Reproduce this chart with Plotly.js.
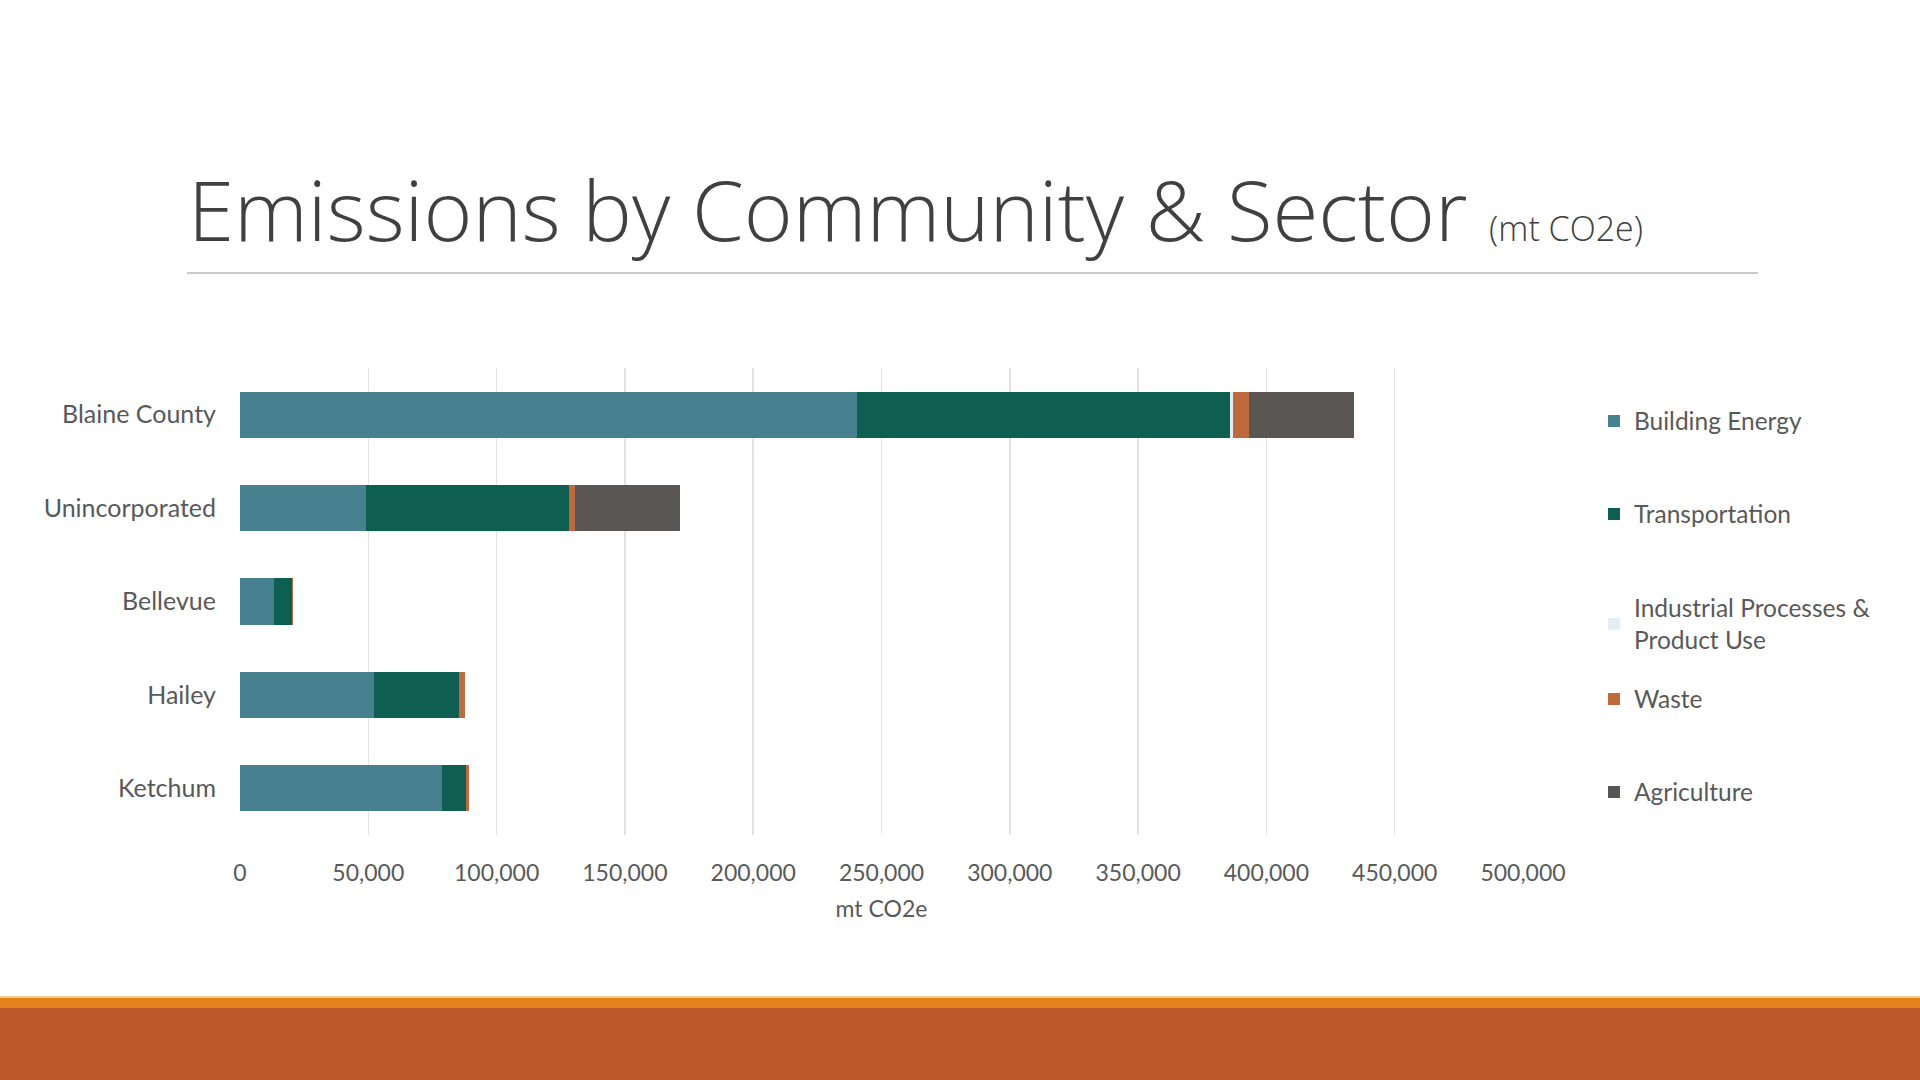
<!DOCTYPE html>
<html>
<head>
<meta charset="utf-8">
<script src="https://cdn.plot.ly/plotly-3.0.1.min.js"></script>
<style>
html,body{margin:0;padding:0;background:#ffffff;}
#chart{width:1920px;height:1080px;}
</style>
</head>
<body>
<div id="chart"></div>
<script>
// ---- Data ----
const communities = ["Blaine County", "Unincorporated", "Bellevue", "Hailey", "Ketchum"];
const sectors = ["Building Energy", "Transportation", "Industrial Processes &<br>Product Use", "Waste", "Agriculture"];
const buildingEnergy = [240300, 49100, 13300, 52100, 78700];
const transportation = [145700, 79200, 6800, 33200, 9400];
const industrial = [800, 0, 0, 0, 0];
const waste = [6500, 2400, 500, 2500, 1000];
const agriculture = [40800, 40900, 0, 0, 0];
const xTicks = [0, 50000, 100000, 150000, 200000, 250000, 300000, 350000, 400000, 450000, 500000];

const seriesValues = [buildingEnergy, transportation, industrial, waste, agriculture];
const colors = ["#47808E", "#0E5E52", "#E4EDF1", "#BF6A3D", "#5A5654"];

// ---- Layout geometry (pixels) ----
const W = 1920, H = 1080;
const plotL = 240, plotR = 1523, plotT = 368, plotB = 835;
const px = x => (x - plotL) / (plotR - plotL);
const py = y => (plotB - y) / (plotB - plotT);

const legendNames = ["legend", "legend2", "legend3", "legend4", "legend5"];
const legendCenters = [421, 514, 624, 699, 792];

const traces = sectors.map((name, i) => ({
  type: "bar",
  orientation: "h",
  name: name,
  y: communities,
  x: seriesValues[i],
  marker: {color: colors[i], line: {width: 0}},
  legend: legendNames[i],
  hoverinfo: "skip"
}));

const fontFam = "Lato, 'Noto Sans', sans-serif";
const textColor = "#595959";

const layout = {
  width: W, height: H,
  paper_bgcolor: "#ffffff",
  plot_bgcolor: "#ffffff",
  margin: {l: plotL, r: W - plotR, t: plotT, b: H - plotB, pad: 0},
  barmode: "stack",
  bargap: 0.505,
  showlegend: true,
  font: {family: fontFam, color: textColor, size: 22},
  xaxis: {
    range: [0, 500000],
    tickvals: xTicks,
    ticktext: xTicks.map(v => v.toLocaleString("en-US")),
    showgrid: true,
    gridcolor: "#e2e2e2",
    gridwidth: 1.5,
    zeroline: false,
    showline: false,
    ticks: "",
    ticklabelstandoff: 22,
    tickfont: {family: fontFam, size: 23, color: textColor},
    title: {text: "mt CO2e", font: {family: fontFam, size: 23, color: textColor}, standoff: 15},
    fixedrange: true
  },
  yaxis: {
    categoryorder: "array",
    categoryarray: communities.slice().reverse(),
    showgrid: false,
    zeroline: false,
    showline: false,
    ticks: "",
    ticklabelstandoff: 23,
    tickfont: {family: fontFam, size: 25, color: textColor},
    fixedrange: true
  },
  shapes: [
    {type: "line", xref: "paper", yref: "paper", x0: px(187), x1: px(1758), y0: py(273), y1: py(273),
     line: {color: "#c9c9c9", width: 2}},
    {type: "rect", xref: "paper", yref: "paper", x0: px(0), x1: px(W), y0: py(996), y1: py(998),
     fillcolor: "#E9D08A", line: {width: 0}},
    {type: "rect", xref: "paper", yref: "paper", x0: px(0), x1: px(W), y0: py(998), y1: py(1008),
     fillcolor: "#E3821A", line: {width: 0}},
    {type: "rect", xref: "paper", yref: "paper", x0: px(0), x1: px(W), y0: py(1008), y1: py(H + 2),
     fillcolor: "#BE592B", line: {width: 0}}
  ],
  annotations: [
    {xref: "paper", yref: "paper", x: px(186), y: py(267), xanchor: "left", yanchor: "bottom",
     showarrow: false, align: "left",
     text: "Emissions by Community & Sector <span style='font-size:34px'>(mt CO2e)</span>",
     font: {family: "'Open Sans', sans-serif", size: 83.5, color: "#404040", weight: 300}}
  ]
};

legendNames.forEach((ln, i) => {
  layout[ln] = {
    x: px(1594), y: py(legendCenters[i]),
    xanchor: "left", yanchor: "middle",
    orientation: "v",
    bgcolor: "rgba(0,0,0,0)",
    borderwidth: 0,
    itemwidth: 30,
    font: {family: fontFam, size: 24.5, color: textColor}
  };
});

Plotly.newPlot("chart", traces, layout, {staticPlot: true, displayModeBar: false});
</script>
</body>
</html>
